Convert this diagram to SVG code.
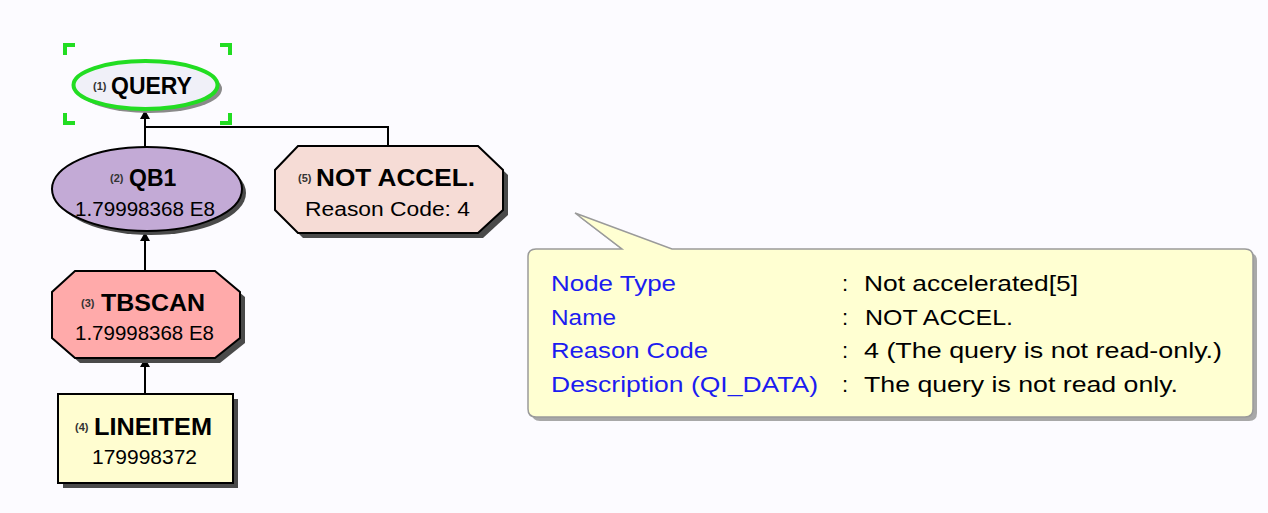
<svg xmlns="http://www.w3.org/2000/svg" width="1268" height="513" viewBox="0 0 1268 513">
<defs>
<style>
.shadow{fill:#4a4a4a}
.node{stroke:#000;stroke-width:2}
.t{font-family:"Liberation Sans",Arial,sans-serif;fill:#000}
.b{font-weight:bold;font-size:23px}
.s{font-size:11px;font-weight:bold;fill:#333}
.v{font-size:20px}
.k{font-family:"Liberation Sans",Arial,sans-serif;font-size:22px;fill:#1c1cf0}
.c{font-family:"Liberation Sans",Arial,sans-serif;font-size:22px;fill:#000}
.conn{stroke:#000;stroke-width:2;fill:none}
.sel{stroke:#22dd22;stroke-width:4;fill:none}
</style>
<marker id="arr" markerWidth="10" markerHeight="10" refX="5" refY="0" orient="0" markerUnits="userSpaceOnUse" viewBox="0 0 10 10" overflow="visible">
<path d="M0,9 L5,0 L10,9 Z" fill="#000"/>
</marker>
</defs>
<rect width="1268" height="513" fill="#fcfbff"/>

<g id="connectors">
<line class="conn" x1="145" y1="147" x2="145" y2="110" marker-end="url(#arr)"/>
<polyline class="conn" points="145,127 388,127 388,146"/>
<line class="conn" x1="145" y1="271" x2="145" y2="232" marker-end="url(#arr)"/>
<line class="conn" x1="145" y1="394" x2="145" y2="358" marker-end="url(#arr)"/>
</g>

<g id="node1">
<ellipse cx="150" cy="89" rx="72" ry="24" fill="#8a8a8a"/>
<ellipse cx="145.5" cy="85" rx="72" ry="24" fill="#f0f0f8" stroke="#22dd22" stroke-width="4"/>
<path class="sel" d="M65,55 V45 H75 M220,45 H230 V55 M65,113 V123 H75 M220,123 H230 V113"/>
<text class="t s" x="93" y="90">(1)</text>
<text class="t b" x="111" y="94">QUERY</text>
</g>

<g id="node2">
<ellipse class="shadow" cx="151" cy="193" rx="95" ry="42"/>
<ellipse class="node" cx="147" cy="189" rx="95" ry="42" fill="#c3aad6"/>
<text class="t s" x="110" y="182">(2)</text>
<text class="t b" x="129" y="186">QB1</text>
<text class="t v" x="75" y="216" textLength="140" lengthAdjust="spacingAndGlyphs">1.79998368 E8</text>
</g>

<g id="node5">
<polygon class="shadow" points="303,151 483,151 508,175 508,215 483,238 303,238 280,215 280,175"/>
<polygon class="node" points="298,146 478,146 503,170 503,210 478,233 298,233 275,210 275,170" fill="#f6dcd6"/>
<text class="t s" x="298" y="182">(5)</text>
<text class="t b" x="316" y="186" textLength="159" lengthAdjust="spacingAndGlyphs">NOT ACCEL.</text>
<text class="t v" x="305" y="216" textLength="165" lengthAdjust="spacingAndGlyphs">Reason Code: 4</text>
</g>

<g id="node3">
<polygon class="shadow" points="80,276 220,276 245,297 245,343 220,363 80,363 57,343 57,297"/>
<polygon class="node" points="75,271 215,271 240,292 240,338 215,358 75,358 52,338 52,292" fill="#ffaaaa"/>
<text class="t s" x="81" y="307">(3)</text>
<text class="t b" x="101" y="311" textLength="104" lengthAdjust="spacingAndGlyphs">TBSCAN</text>
<text class="t v" x="75" y="340" textLength="139" lengthAdjust="spacingAndGlyphs">1.79998368 E8</text>
</g>

<g id="node4">
<rect class="shadow" x="63" y="399" width="175" height="89"/>
<rect class="node" x="58" y="394" width="175" height="89" fill="#fffdd0"/>
<text class="t s" x="75" y="431">(4)</text>
<text class="t b" x="94" y="435" textLength="118" lengthAdjust="spacingAndGlyphs">LINEITEM</text>
<text class="t v" x="92" y="464" textLength="105" lengthAdjust="spacingAndGlyphs">179998372</text>
</g>

<g id="callout">
<path d="M537,253 H626 L579,217 L676,253 H1249 Q1257,253 1257,261 V413 Q1257,421 1249,421 H540 Q532,421 532,413 V261 Q532,253 537,253 Z" fill="#a8a8a8"/>
<path d="M536,249 H622 L575,213 L672,249 H1245 Q1253,249 1253,257 V409 Q1253,417 1245,417 H536 Q528,417 528,409 V257 Q528,249 536,249 Z" fill="#ffffd2" stroke="#9a9a9a" stroke-width="1.5"/>
<text class="k" x="551" y="291" textLength="125" lengthAdjust="spacingAndGlyphs">Node Type</text>
<text class="k" x="551" y="325" textLength="65" lengthAdjust="spacingAndGlyphs">Name</text>
<text class="k" x="551" y="358" textLength="157" lengthAdjust="spacingAndGlyphs">Reason Code</text>
<text class="k" x="551" y="392" textLength="267" lengthAdjust="spacingAndGlyphs">Description (QI_DATA)</text>
<text class="c" x="842" y="291">:</text>
<text class="c" x="842" y="325">:</text>
<text class="c" x="842" y="358">:</text>
<text class="c" x="842" y="392">:</text>
<text class="c" x="864" y="291" textLength="214" lengthAdjust="spacingAndGlyphs">Not accelerated[5]</text>
<text class="c" x="865" y="325" textLength="148" lengthAdjust="spacingAndGlyphs">NOT ACCEL.</text>
<text class="c" x="864" y="358" textLength="358" lengthAdjust="spacingAndGlyphs">4 (The query is not read-only.)</text>
<text class="c" x="864" y="392" textLength="314" lengthAdjust="spacingAndGlyphs">The query is not read only.</text>
</g>
</svg>
